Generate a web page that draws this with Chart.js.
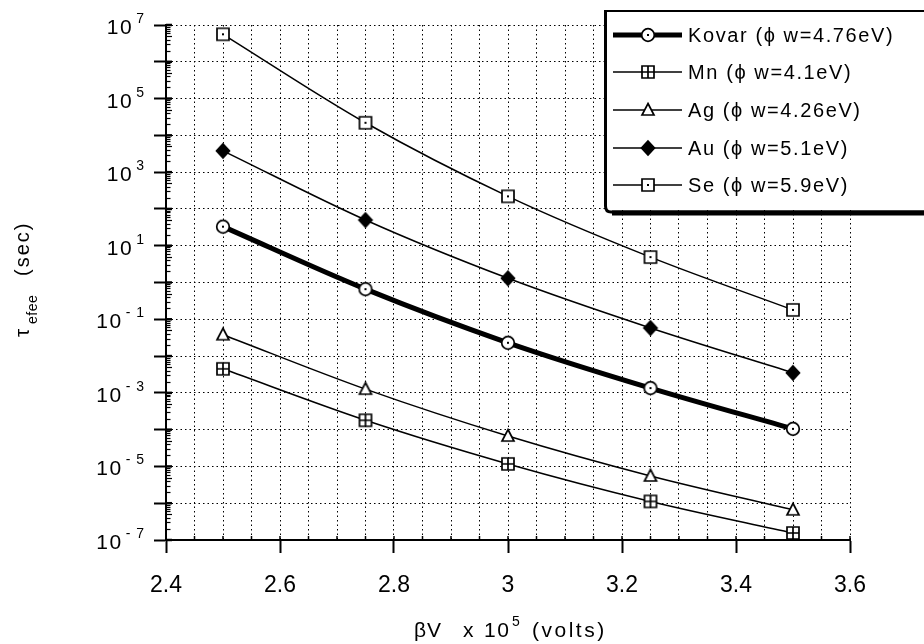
<!DOCTYPE html>
<html>
<head>
<meta charset="utf-8">
<script src="https://cdn.jsdelivr.net/npm/chart.js@4.4.1/dist/chart.umd.min.js"></script>
<style>
  html, body { margin: 0; padding: 0; background: #fff; }
  canvas { display: block; }
</style>
</head>
<body>
<canvas id="chart" width="924" height="644"></canvas>
<script>
// βV x 10^5 (volts)
const voltages = [2.5, 2.75, 3.0, 3.25, 3.5]

// tau_efee (sec) for each metal
const kovar = [33, 0.66, 0.023, 1.35e-3, 1.05e-4]
const mn = [4.5e-3, 1.8e-4, 1.17e-5, 1.12e-6, 1.55e-7]
const ag = [0.038, 1.26e-3, 6.7e-5, 5.5e-6, 6.6e-7]
const au = [3.8e3, 50, 1.3, 0.058, 3.5e-3]
const se = [5.6e6, 2.2e4, 2.2e2, 4.9, 0.18]

const seriesLabels = ["Kovar (ϕ w=4.76eV)", "Mn (ϕ w=4.1eV)", "Ag (ϕ w=4.26eV)", "Au (ϕ w=5.1eV)", "Se (ϕ w=5.9eV)"]

const xTickLabels = ["2.4", "2.6", "2.8", "3", "3.2", "3.4", "3.6"]
const yLabelExponents = [7, 5, 3, 1, -1, -3, -5, -7]

const FONT = '"Liberation Sans", Arial, Helvetica, sans-serif'

// small canvas markers, so the open/dotted/crossed symbols look like the print
function makeMarker(kind) {
  const s = 18
  const c = document.createElement("canvas")
  c.width = s
  c.height = s
  const g = c.getContext("2d")
  const m = s / 2
  g.lineWidth = 1.7
  g.strokeStyle = "#000"
  g.fillStyle = "#fff"
  g.beginPath()
  if (kind === "circle") g.arc(m, m, 6.3, 0, Math.PI * 2)
  else if (kind === "square" || kind === "squarePlus") g.rect(m - 6, m - 6, 12, 12)
  else if (kind === "triangle") {
    g.moveTo(m, m - 6.5); g.lineTo(m + 6, m + 5); g.lineTo(m - 6, m + 5); g.closePath()
  } else if (kind === "diamond") {
    g.moveTo(m, m - 7); g.lineTo(m + 6.5, m); g.lineTo(m, m + 7); g.lineTo(m - 6.5, m); g.closePath()
    g.fillStyle = "#000"
  }
  g.fill()
  g.stroke()
  g.fillStyle = "#000"
  if (kind === "circle" || kind === "square") g.fillRect(m - 1, m - 1, 2, 2)
  if (kind === "squarePlus") {
    g.beginPath()
    g.moveTo(m, m - 6); g.lineTo(m, m + 6)
    g.moveTo(m - 6, m); g.lineTo(m + 6, m)
    g.stroke()
  }
  return c
}

const series = [
  { label: seriesLabels[0], values: kovar, marker: makeMarker("circle"), width: 5 },
  { label: seriesLabels[1], values: mn, marker: makeMarker("squarePlus"), width: 1.5 },
  { label: seriesLabels[2], values: ag, marker: makeMarker("triangle"), width: 1.5 },
  { label: seriesLabels[3], values: au, marker: makeMarker("diamond"), width: 1.5 },
  { label: seriesLabels[4], values: se, marker: makeMarker("square"), width: 1.5 }
]

const xGridValues = Array.from({ length: 25 }, (_, k) => +(2.4 + k * 0.05).toFixed(2))
const yDecades = Array.from({ length: 15 }, (_, k) => Math.pow(10, k - 7))

function xLabelFor(value) {
  const v = Math.round(value * 100) / 100
  const hit = xTickLabels.find(l => Math.abs(parseFloat(l) - v) < 1e-6)
  return hit || ""
}

// draws text piece by piece so superscripts/subscripts come out right
function drawPieces(ctx, pieces) {
  for (const p of pieces) {
    ctx.font = p.size + "px " + FONT
    ctx.letterSpacing = (p.spacing || 0) + "px"
    ctx.fillText(p.text, p.x, p.y)
  }
  ctx.letterSpacing = "0px"
}

const decorations = {
  id: "decorations",
  beforeDatasetsDraw(chart) {
    const { ctx, chartArea, scales } = chart
    ctx.save()
    ctx.strokeStyle = "#000"
    // minor log ticks inside the y axis
    ctx.lineWidth = 1.2
    for (let e = -7; e < 7; e++) {
      for (let m = 2; m <= 9; m++) {
        const py = Math.round(scales.y.getPixelForValue(m * Math.pow(10, e))) + 0.5
        ctx.beginPath()
        ctx.moveTo(chartArea.left, py)
        ctx.lineTo(chartArea.left + (m === 5 ? 6 : 4.5), py)
        ctx.stroke()
      }
    }
    ctx.lineWidth = 2.5
    for (const v of yDecades) {
      const py = scales.y.getPixelForValue(v)
      ctx.beginPath()
      ctx.moveTo(chartArea.left, py)
      ctx.lineTo(chartArea.left + 6, py)
      ctx.stroke()
    }
    // small ticks above the x axis
    ctx.lineWidth = 1.5
    for (const v of xGridValues) {
      const px = scales.x.getPixelForValue(v)
      ctx.beginPath()
      ctx.moveTo(px, chartArea.bottom)
      ctx.lineTo(px, chartArea.bottom - 4)
      ctx.stroke()
    }
    ctx.restore()
  },
  afterDraw(chart) {
    const { ctx, scales } = chart
    ctx.save()
    ctx.fillStyle = "#000"
    ctx.textBaseline = "alphabetic"
    ctx.textAlign = "left"

    // y tick labels 10^n
    for (const e of yLabelExponents) {
      const py = scales.y.getPixelForValue(Math.pow(10, e))
      const sup = e < 0 ? "- " + (-e) : String(e)
      ctx.font = "14px " + FONT
      ctx.letterSpacing = "1px"
      const supW = ctx.measureText(sup).width
      const supX = 145 - supW
      ctx.fillText(sup, supX, py - 2)
      ctx.font = "21px " + FONT
      ctx.letterSpacing = "1.5px"
      const baseW = ctx.measureText("10").width
      ctx.fillText("10", supX - 3 - baseW, py + 9)
    }
    ctx.letterSpacing = "0px"

    // x axis title
    drawPieces(ctx, [
      { text: "βV", x: 414, y: 637, size: 21, spacing: 1 },
      { text: "x", x: 463, y: 637, size: 21 },
      { text: "10", x: 484, y: 637, size: 21, spacing: 1.5 },
      { text: "5", x: 512, y: 626, size: 14 },
      { text: "(volts)", x: 532, y: 637, size: 21, spacing: 2.5 }
    ])

    // y axis title, rotated
    ctx.save()
    ctx.translate(29, 337)
    ctx.rotate(-Math.PI / 2)
    drawPieces(ctx, [
      { text: "τ", x: 0, y: 0, size: 21 },
      { text: "efee", x: 13, y: 8, size: 14, spacing: 0.5 },
      { text: "(sec)", x: 61, y: 0, size: 20, spacing: 2 }
    ])
    ctx.restore()

    // legend box
    ctx.fillStyle = "#fff"
    ctx.fillRect(606, 11, 330, 199)
    ctx.strokeStyle = "#000"
    ctx.lineWidth = 2
    ctx.beginPath()
    ctx.moveTo(605, 11)
    ctx.lineTo(930, 11)
    ctx.stroke()
    ctx.lineWidth = 3
    ctx.beginPath()
    ctx.moveTo(605.5, 10)
    ctx.lineTo(605.5, 206)
    ctx.quadraticCurveTo(605.5, 212, 611, 212)
    ctx.lineTo(930, 212)
    ctx.stroke()
    ctx.lineWidth = 5
    ctx.beginPath()
    ctx.moveTo(612, 213)
    ctx.lineTo(930, 213)
    ctx.stroke()

    const rowY = [35, 72, 110, 148, 185]
    ctx.fillStyle = "#000"
    ctx.textBaseline = "middle"
    series.forEach((s, i) => {
      const y = rowY[i]
      ctx.lineWidth = s.width
      ctx.beginPath()
      ctx.moveTo(613, y)
      ctx.lineTo(682, y)
      ctx.stroke()
      ctx.drawImage(s.marker, 648 - s.marker.width / 2, y - s.marker.height / 2)
      ctx.font = "20px " + FONT
      ctx.letterSpacing = "1.6px"
      ctx.fillText(s.label, 688, y + 1)
    })
    ctx.letterSpacing = "0px"
    ctx.restore()
  }
}

new Chart(document.getElementById("chart"), {
  type: "line",
  data: {
    datasets: series.map(s => ({
      label: s.label,
      data: voltages.map((x, i) => ({ x, y: s.values[i] })),
      borderColor: "#000",
      backgroundColor: "#fff",
      borderWidth: s.width,
      pointStyle: s.marker,
      pointRadius: 7,
      pointHoverRadius: 7,
      cubicInterpolationMode: "monotone",
      fill: false
    }))
  },
  options: {
    responsive: false,
    animation: false,
    events: [],
    layout: { padding: { top: 25, right: 74, left: 0, bottom: 0 } },
    plugins: {
      legend: { display: false },
      tooltip: { enabled: false }
    },
    scales: {
      x: {
        type: "linear",
        min: 2.4,
        max: 3.6,
        afterBuildTicks: scale => { scale.ticks = xGridValues.map(value => ({ value })) },
        afterFit: scale => { scale.height = 104 },
        ticks: {
          autoSkip: false,
          maxRotation: 0,
          padding: 19,
          color: "#000",
          font: { family: FONT, size: 23 },
          callback: value => xLabelFor(value)
        },
        grid: {
          color: "#000",
          lineWidth: 1,
          tickLength: 13,
          tickWidth: 2,
          tickColor: ctx => (ctx.tick && xLabelFor(ctx.tick.value) ? "#000" : "rgba(0,0,0,0)")
        },
        border: { display: true, color: "#000", width: 2, dash: [1.5, 3] }
      },
      y: {
        type: "logarithmic",
        min: 1e-7,
        max: 1e7,
        afterBuildTicks: scale => { scale.ticks = yDecades.map(value => ({ value })) },
        afterFit: scale => { scale.width = 166 },
        ticks: { display: false },
        grid: {
          color: "#000",
          lineWidth: 1,
          tickLength: 12,
          tickWidth: 2,
          tickColor: "#000"
        },
        border: { display: true, color: "#000", width: 2, dash: [1.5, 3] }
      }
    }
  },
  plugins: [decorations]
})
</script>
</body>
</html>
